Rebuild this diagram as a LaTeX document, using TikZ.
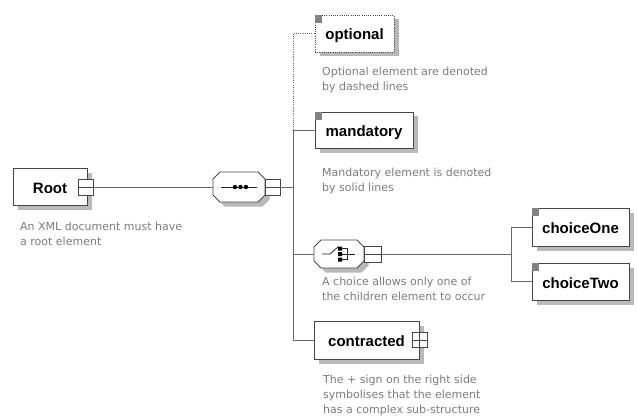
\documentclass[tikz,border=0pt]{standalone}
\usepackage{fontspec}
\newfontfamily\capfont{DejaVu Sans}
\newfontfamily\labfont{Liberation Sans}
\definecolor{boxc}{RGB}{70,70,70}
\definecolor{linec}{RGB}{105,105,105}
\definecolor{capc}{RGB}{125,125,125}
\definecolor{shadc}{RGB}{185,185,185}
\definecolor{markc}{RGB}{130,130,130}
\begin{document}
\begin{tikzpicture}[x=1pt,y=-1pt,
  shadowed/.style={preaction={draw=none, fill=shadc, solid, transform canvas={xshift=4.5pt, yshift=-4.5pt}}},
  elem/.style={rectangle, draw=boxc, line width=0.9pt, fill=white, inner sep=0pt,
    font=\labfont\bfseries\fontsize{15}{15}\selectfont, text height=13pt, text depth=0pt, shadowed},
  cornermark/.style={rectangle, fill=markc, minimum width=7pt, minimum height=8pt, inner sep=0pt, anchor=north west},
  sqbox/.style={rectangle, draw=boxc, line width=0.8pt, fill=white, minimum width=15pt, minimum height=16pt, inner sep=0pt},
  minusbox/.style={sqbox, path picture={\draw[boxc, line width=0.8pt] (path picture bounding box.west) -- (path picture bounding box.east);}},
  plusbox/.style={sqbox, path picture={\draw[boxc, line width=0.8pt] (path picture bounding box.west) -- (path picture bounding box.east) (path picture bounding box.north) -- (path picture bounding box.south);}},
  ghost/.style={rectangle, inner sep=0pt},
  octo/.style={draw=boxc, line width=0.9pt, fill=white, shadowed},
  conn/.style={draw=linec, line width=0.85pt},
  dotline/.style={dash pattern=on 1pt off 1.2pt},
  captext/.style={anchor=north west, inner sep=0pt, align=left, text=capc, font=\capfont\fontsize{11}{15}\selectfont},
  icon/.style={draw=black!85, line width=0.8pt}
]
\useasboundingbox[fill=white] (0,0) rectangle (637,417);

% Root
\node[elem, minimum width=74pt, minimum height=37pt] (root) at (50,186.5) {Root\hspace{17pt}};
\node[minusbox] (rootsq) at (86,187) {};
\node[captext] (rootcap) at (20,221.6) {An XML document must have\\a root element};

% sequence compositor
\node[ghost, minimum width=52pt, minimum height=30pt] (seq) at (239,187) {};
\path[octo] (220,172) -- (258,172) -- (265,179) -- (265,195) -- (258,202) -- (220,202) -- (213,195) -- (213,179) -- cycle;
\draw[icon] (221,187) -- (257,187);
\fill[black] (235,187) circle (2.2) (240.5,187) circle (2.2) (246,187) circle (2.2);
\node[minusbox] (seqsq) at (272.5,187) {};

% optional
\node[elem, dotline, minimum width=79pt, minimum height=37pt] (opt) at (354.5,33.5) {optional};
\node[cornermark] (optm) at (opt.north west) {};
\node[captext] (optcap) at (322,66.6) {Optional element are denoted\\by dashed lines};

% mandatory
\node[elem, minimum width=98pt, minimum height=36pt] (mand) at (364,130) {mandatory};
\node[cornermark] (mandm) at (mand.north west) {};
\node[captext] (mandcap) at (322,167.6) {Mandatory element is denoted\\by solid lines};

% choice compositor
\node[ghost, minimum width=50pt, minimum height=28pt] (choice) at (339,254) {};
\path[octo] (321,240) -- (357,240) -- (364,247) -- (364,261) -- (357,268) -- (321,268) -- (314,261) -- (314,247) -- cycle;
\draw[icon] (322,254) -- (330,254) -- (338,247);
\fill[black] (338,246.5) rectangle (342,250.5) (338,252) rectangle (342,256) (338,257.5) rectangle (342,261.5);
\draw[icon] (342,248.5) -- (347,248.5) -- (347,259.5) -- (342,259.5) (342,254) -- (355,254);
\node[minusbox, minimum width=17pt] (chsq) at (372.5,254) {};
\node[captext] (chcap) at (322,276.6) {A choice allows only one of\\the children element to occur};

% choices
\node[elem, minimum width=97pt, minimum height=38pt] (c1) at (580.5,227) {choiceOne};
\node[cornermark] (c1m) at (c1.north west) {};
\node[elem, minimum width=97pt, minimum height=37pt] (c2) at (580.5,281.5) {choiceTwo};
\node[cornermark] (c2m) at (c2.north west) {};

% contracted
\node[elem, minimum width=105pt, minimum height=38pt] (contr) at (366.5,340) {contracted\hspace{6pt}};
\node[plusbox, minimum width=15pt, minimum height=15pt] (plus) at (419.5,340) {};
\node[captext] (contrcap) at (323,374.6) {The + sign on the right side\\symbolises that the element\\has a complex sub-structure};

% connectors
\coordinate (busb) at (293,340);
\coordinate (cbus) at (511,254);
\draw[conn] (rootsq.east) -- (seq.west);
\draw[conn] (seqsq.east) -- (seqsq.east -| busb);
\draw[conn, dotline] (opt.west) -| (mand.west -| busb);
\draw[conn] (mand.west) -| (busb) -- (contr.west);
\draw[conn] (choice.west) -- (choice.west -| busb);
\draw[conn] (chsq.east) -- (cbus);
\draw[conn] (c1.west) -| (cbus);
\draw[conn] (c2.west) -| (cbus);
\end{tikzpicture}
\end{document}
